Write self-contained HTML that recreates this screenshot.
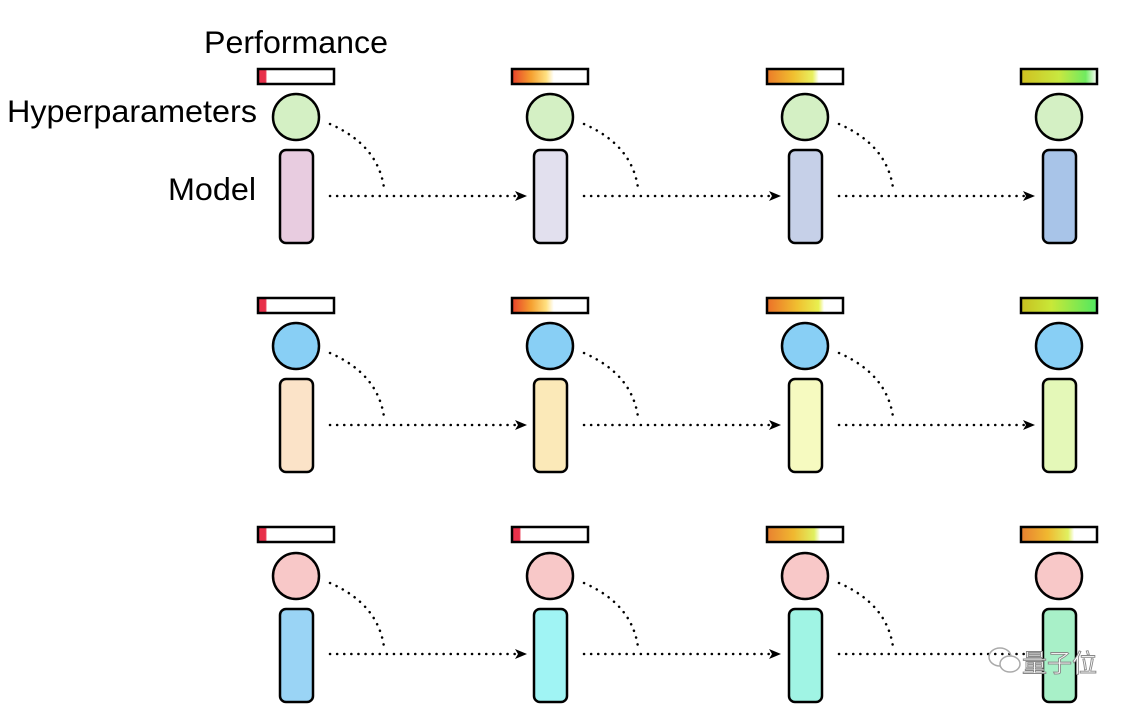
<!DOCTYPE html>
<html><head><meta charset="utf-8"><style>body{margin:0;background:#fff}svg{display:block}</style></head>
<body>
<svg width="1144" height="712" viewBox="0 0 1144 712" xmlns="http://www.w3.org/2000/svg" font-family="Liberation Sans, sans-serif">
<defs>
<linearGradient id="g1"><stop offset="0" stop-color="#e8304a"/><stop offset="0.1" stop-color="#e8304a"/><stop offset="0.12" stop-color="#fff"/></linearGradient>
<linearGradient id="g2"><stop offset="0" stop-color="#e8402a"/><stop offset="0.25" stop-color="#f5a030"/><stop offset="0.45" stop-color="#ffe080"/><stop offset="0.55" stop-color="#fff"/></linearGradient>
<linearGradient id="g3"><stop offset="0" stop-color="#ec7a28"/><stop offset="0.35" stop-color="#f0c030"/><stop offset="0.6" stop-color="#e8f060"/><stop offset="0.68" stop-color="#fff"/></linearGradient>
<linearGradient id="g4"><stop offset="0" stop-color="#d0c020"/><stop offset="0.5" stop-color="#c8e840"/><stop offset="0.85" stop-color="#70ea60"/><stop offset="1" stop-color="#fff"/></linearGradient>
<linearGradient id="g5"><stop offset="0" stop-color="#ec7028"/><stop offset="0.4" stop-color="#f0c030"/><stop offset="0.68" stop-color="#e8f050"/><stop offset="0.75" stop-color="#fff"/></linearGradient>
<linearGradient id="g6"><stop offset="0" stop-color="#c8c020"/><stop offset="0.4" stop-color="#c8e838"/><stop offset="1" stop-color="#50e860"/></linearGradient>
<linearGradient id="g7"><stop offset="0" stop-color="#e88030"/><stop offset="0.35" stop-color="#f0b830"/><stop offset="0.62" stop-color="#e0f060"/><stop offset="0.7" stop-color="#fff"/></linearGradient>
</defs>
<text x="204" y="53" font-size="31.5" textLength="184" lengthAdjust="spacingAndGlyphs">Performance</text>
<text x="7" y="122" font-size="31.5" textLength="250" lengthAdjust="spacingAndGlyphs">Hyperparameters</text>
<text x="168" y="200" font-size="31.5" textLength="88" lengthAdjust="spacingAndGlyphs">Model</text>
<g stroke="#000" stroke-width="2.5">
<rect x="258" y="69" width="76" height="15" fill="url(#g1)"/>
<rect x="512" y="69" width="76" height="15" fill="url(#g2)"/>
<rect x="767" y="69" width="76" height="15" fill="url(#g3)"/>
<rect x="1021" y="69" width="76" height="15" fill="url(#g4)"/>
<circle cx="296" cy="117" r="23" fill="#d4f0c4"/><circle cx="550" cy="117" r="23" fill="#d4f0c4"/><circle cx="805" cy="117" r="23" fill="#d4f0c4"/><circle cx="1059" cy="117" r="23" fill="#d4f0c4"/>
<rect x="280" y="150" width="33" height="93" rx="6" fill="#e8cce0"/>
<rect x="534" y="150" width="33" height="93" rx="6" fill="#e2e0ee"/>
<rect x="789" y="150" width="33" height="93" rx="6" fill="#c6d0e8"/>
<rect x="1043" y="150" width="33" height="93" rx="6" fill="#a8c4e8"/>
</g>
<g stroke="#000" stroke-width="2.5">
<rect x="258" y="298" width="76" height="15" fill="url(#g1)"/>
<rect x="512" y="298" width="76" height="15" fill="url(#g2)"/>
<rect x="767" y="298" width="76" height="15" fill="url(#g5)"/>
<rect x="1021" y="298" width="76" height="15" fill="url(#g6)"/>
<circle cx="296" cy="346" r="23" fill="#88cff5"/><circle cx="550" cy="346" r="23" fill="#88cff5"/><circle cx="805" cy="346" r="23" fill="#88cff5"/><circle cx="1059" cy="346" r="23" fill="#88cff5"/>
<rect x="280" y="379" width="33" height="93" rx="6" fill="#fbe3c8"/>
<rect x="534" y="379" width="33" height="93" rx="6" fill="#fbe9b8"/>
<rect x="789" y="379" width="33" height="93" rx="6" fill="#f6fac0"/>
<rect x="1043" y="379" width="33" height="93" rx="6" fill="#e4f8b8"/>
</g>
<g stroke="#000" stroke-width="2.5">
<rect x="258" y="527" width="76" height="15" fill="url(#g1)"/>
<rect x="512" y="527" width="76" height="15" fill="url(#g1)"/>
<rect x="767" y="527" width="76" height="15" fill="url(#g7)"/>
<rect x="1021" y="527" width="76" height="15" fill="url(#g7)"/>
<circle cx="296" cy="576" r="23" fill="#f8c8c8"/><circle cx="550" cy="576" r="23" fill="#f8c8c8"/><circle cx="805" cy="576" r="23" fill="#f8c8c8"/><circle cx="1059" cy="576" r="23" fill="#f8c8c8"/>
<rect x="280" y="609" width="33" height="93" rx="6" fill="#9ad4f5"/>
<rect x="534" y="609" width="33" height="93" rx="6" fill="#a0f4f4"/>
<rect x="789" y="609" width="33" height="93" rx="6" fill="#a0f4e4"/>
<rect x="1043" y="609" width="33" height="93" rx="6" fill="#a8f0c8"/>
</g>
<g fill="none" stroke="#000" stroke-width="2.5" stroke-dasharray="0.1 7" stroke-linecap="round">
<path d="M330,124 Q378,145 384,188"/><path d="M584,124 Q632,145 638,188"/><path d="M839,124 Q887,145 893,188"/>
<path d="M330,353 Q378,374 384,417"/><path d="M584,353 Q632,374 638,417"/><path d="M839,353 Q887,374 893,417"/>
<path d="M330,583 Q378,604 384,647"/><path d="M584,583 Q632,604 638,647"/><path d="M839,583 Q887,604 893,647"/>
<path d="M330,196 H518"/><path d="M584,196 H772"/><path d="M839,196 H1026"/>
<path d="M330,425 H518"/><path d="M584,425 H772"/><path d="M839,425 H1026"/>
<path d="M330,654 H518"/><path d="M584,654 H772"/><path d="M839,654 H1026"/>
</g>
<g fill="#000">
<path d="M515,191 L527,196 L515,201 L518,196Z"/><path d="M769,191 L781,196 L769,201 L772,196Z"/><path d="M1023,191 L1035,196 L1023,201 L1026,196Z"/>
<path d="M515,420 L527,425 L515,430 L518,425Z"/><path d="M769,420 L781,425 L769,430 L772,425Z"/><path d="M1023,420 L1035,425 L1023,430 L1026,425Z"/>
<path d="M515,649 L527,654 L515,659 L518,654Z"/><path d="M769,649 L781,654 L769,659 L772,654Z"/>
</g>
<g fill="none" stroke="#aaa" stroke-width="1.5"><ellipse cx="1000" cy="657" rx="11" ry="9"/><ellipse cx="1010" cy="664" rx="10" ry="8" fill="#fff"/></g>
<text x="1022" y="672" font-size="25" fill="#fff" stroke="#888" stroke-width="0.9" font-family="Liberation Sans, Noto Sans CJK SC, sans-serif">量子位</text>
</svg>
</body></html>
